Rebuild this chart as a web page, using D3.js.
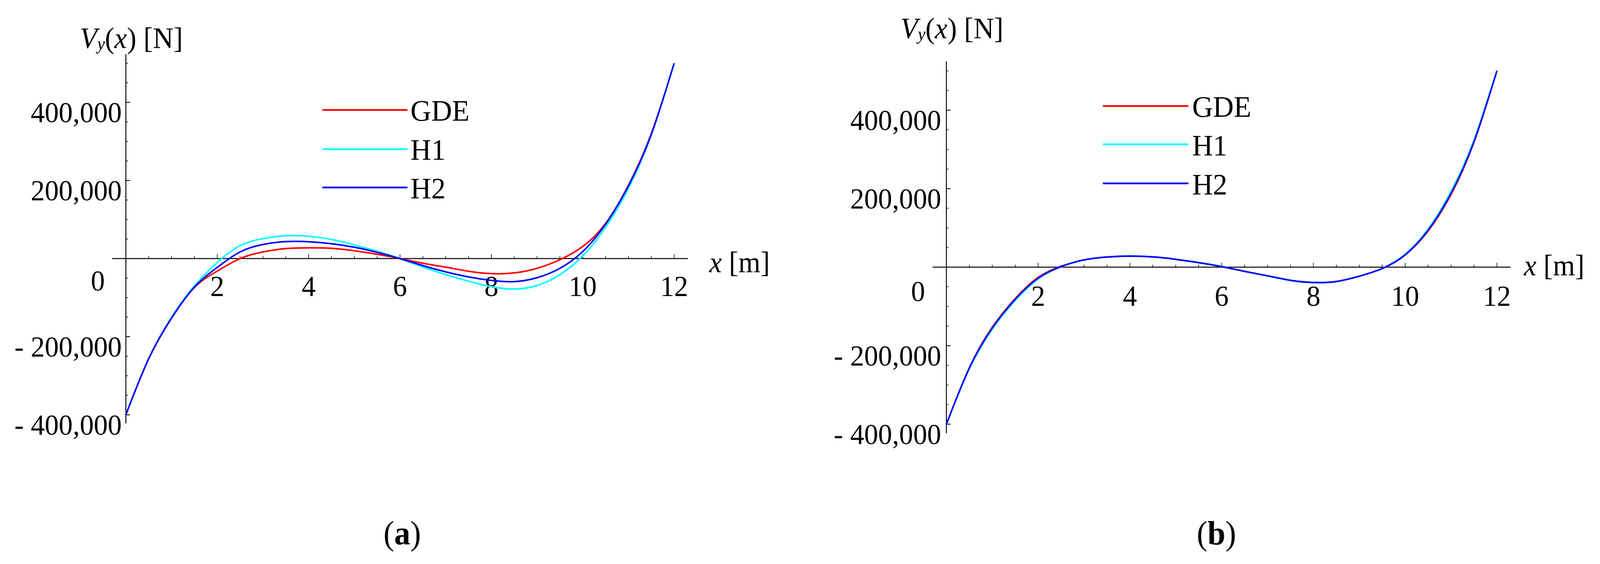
<!DOCTYPE html>
<html>
<head>
<meta charset="utf-8">
<script src="https://cdn.jsdelivr.net/npm/d3@7"></script>
<style>
  html, body { margin: 0; padding: 0; overflow: hidden; background: #fff; }
  svg { display: block; width: 100vw; height: 100vh; font-family: 'Liberation Serif', 'Times New Roman', serif; }
</style>
</head>
<body>
<svg id="chart" viewBox="0 0 4284 1444" preserveAspectRatio="none"></svg>
<script>
// x positions along the beam [m]
const xs = [0, 0.5, 1, 1.5, 2, 2.5, 3, 3.5, 4, 4.5, 5, 5.5, 6, 6.5, 7, 7.5, 8, 8.5, 9, 9.5, 10, 10.5, 11, 11.5, 12];

// panel (a) shear force Vy(x) [N]
const gdeA = [-400000, -257000, -153000, -74000, -32000, 0, 17000, 25600, 27400, 26300, 20000, 11000, 0, -12000, -22000, -32400, -38500, -36800, -25000, -3000, 31000, 90000, 188000, 320000, 500000];
const h1A = [-400000, -256000, -150000, -70000, -10000, 33000, 51000, 58400, 57000, 49000, 35000, 18500, 0, -21500, -41000, -58000, -72000, -78000, -69000, -41000, 7000, 80000, 180000, 316000, 500000];
const h2A = [-400000, -256000, -152000, -73000, -22600, 17000, 36000, 43400, 43000, 38000, 29000, 16000, 0, -18000, -34000, -47000, -56000, -59000, -49000, -25000, 18000, 88000, 186000, 318000, 500000];

// panel (b) shear force Vy(x) [N]
const gdeB = [-400000, -256000, -153000, -80000, -26000, 2000, 18500, 25500, 28000, 26000, 20000, 11500, 1500, -10500, -22000, -33500, -39000, -36500, -23000, -3500, 31000, 92000, 185000, 318000, 500000];
const h1B = [-400000, -259000, -158000, -85000, -30000, 1000, 18500, 26000, 28500, 26000, 20000, 12000, 1500, -11000, -22500, -34000, -39500, -36500, -23000, -3000, 33000, 97000, 193000, 324000, 502000];
const h2B = [-400000, -257000, -155000, -82000, -28000, 1500, 18500, 25800, 28000, 26000, 20000, 11500, 1500, -10800, -22000, -33500, -39000, -36500, -23000, -3500, 31500, 94000, 188000, 320000, 500000];

const seriesNames = ["GDE", "H1", "H2"];
const seriesColors = ["#ff0000", "#00ffff", "#0000ff"];

const xMajorTicks = [2, 4, 6, 8, 10, 12];
const xMinorTicks = d3.range(0.5, 12.01, 0.5);
const yMajorTicks = [-400000, -200000, 200000, 400000];
const yMajorLabels = ["- 400,000", "- 200,000", "200,000", "400,000"];
const yMinorTicks = d3.range(-400000, 500001, 50000);

const panels = [
  {
    caption: "a", series: [gdeA, h1A, h2A],
    xRange: [337, 1805], yRange: [1062, 262],
    xExtent: [-0.3, 12.3], yExtent: [-422000, 523000],
    title: [214, 123], xLabel: [1899, 697], zero: [262, 744],
    xLabelDy: 96, yLabelGap: 11,
    legendX: [863, 1091], legendY: [281.5, 382, 480], legendTextX: 1099, legendBase: [309, 409, 508],
    captionPos: [1077, 1394]
  },
  {
    caption: "b", series: [gdeB, h1B, h2B],
    xRange: [2534, 4008], yRange: [1086, 282],
    xExtent: [-0.3, 12.3], yExtent: [-423000, 524000],
    title: [2411, 98], xLabel: [4080, 705], zero: [2458, 771],
    xLabelDy: 99, yLabelGap: 14,
    legendX: [2953, 3182], legendY: [271.5, 369.5, 469.5], legendTextX: 3192, legendBase: [299, 398.5, 498],
    captionPos: [3257, 1394]
  }
];

const svg = d3.select("#chart");
svg.append("rect").attr("width", 4284).attr("height", 1444).attr("fill", "#fff");

panels.forEach(p => drawPanel(p));

function drawPanel(p) {
  const x = d3.scaleLinear().domain([0, 12]).range(p.xRange);
  const y = d3.scaleLinear().domain([-400000, 400000]).range(p.yRange);
  const g = svg.append("g");
  const y0 = y(0), x0 = x(0);

  // axis lines
  g.append("line")
    .attr("x1", x(p.xExtent[0])).attr("x2", x(p.xExtent[1]))
    .attr("y1", y0).attr("y2", y0)
    .attr("stroke", "#000").attr("stroke-width", 2.5);
  g.append("line")
    .attr("x1", x0).attr("x2", x0)
    .attr("y1", y(p.yExtent[0])).attr("y2", y(p.yExtent[1]))
    .attr("stroke", "#000").attr("stroke-width", 2.5);

  // x ticks (pointing up)
  g.selectAll(".xt").data(xMinorTicks).join("line")
    .attr("x1", d => x(d)).attr("x2", d => x(d))
    .attr("y1", y0).attr("y2", d => y0 - (xMajorTicks.includes(d) ? 11 : 6.5))
    .attr("stroke", "#000").attr("stroke-width", 1.6);

  // y ticks (pointing right)
  g.selectAll(".yt").data(yMinorTicks.filter(d => d !== 0)).join("line")
    .attr("x1", x0).attr("x2", d => x0 + (yMajorTicks.includes(d) ? 11 : 5.5))
    .attr("y1", d => y(d)).attr("y2", d => y(d))
    .attr("stroke", "#000").attr("stroke-width", d => yMajorTicks.includes(d) ? 2.2 : 1.6);

  // tick labels
  g.selectAll(".xl").data(xMajorTicks).join("text")
    .attr("x", d => x(d)).attr("y", y0 + p.xLabelDy)
    .attr("text-anchor", "middle").attr("font-size", 75)
    .text(d => d);
  g.selectAll(".yl").data(yMajorTicks).join("text")
    .attr("x", x0 - p.yLabelGap).attr("y", d => y(d) + 51)
    .attr("text-anchor", "end").attr("font-size", 75)
    .text((d, i) => yMajorLabels[i]);
  g.append("text")
    .attr("x", p.zero[0]).attr("y", p.zero[1])
    .attr("text-anchor", "middle").attr("font-size", 75)
    .text("0");

  // axis titles
  const t = g.append("text")
    .attr("x", p.title[0]).attr("y", p.title[1]).attr("font-size", 76);
  t.append("tspan").attr("font-style", "italic").text("V");
  t.append("tspan").attr("font-style", "italic").attr("font-size", 46).attr("dy", 4).text("y");
  t.append("tspan").attr("dy", -4).text("(");
  t.append("tspan").attr("font-style", "italic").text("x");
  t.append("tspan").text(") [N]");

  const xl = g.append("text")
    .attr("x", p.xLabel[0]).attr("y", p.xLabel[1]).attr("font-size", 76);
  xl.append("tspan").attr("font-style", "italic").text("x");
  xl.append("tspan").text(" [m]");

  // curves
  const line = d3.line()
    .x((d, i) => x(xs[i]))
    .y(d => y(d))
    .curve(d3.curveNatural);
  p.series.forEach((s, i) => {
    g.append("path")
      .datum(s)
      .attr("d", line)
      .attr("fill", "none")
      .attr("stroke", seriesColors[i])
      .attr("stroke-width", 4)
      .attr("stroke-linejoin", "round");
  });

  // legend
  seriesNames.forEach((name, i) => {
    g.append("line")
      .attr("x1", p.legendX[0]).attr("x2", p.legendX[1])
      .attr("y1", p.legendY[i]).attr("y2", p.legendY[i])
      .attr("stroke", seriesColors[i]).attr("stroke-width", 4.5);
    g.append("text")
      .attr("x", p.legendTextX).attr("y", p.legendBase[i])
      .attr("font-size", 77)
      .text(name);
  });

  // caption
  const c = svg.append("text")
    .attr("x", p.captionPos[0]).attr("y", p.captionPos[1])
    .attr("text-anchor", "middle").attr("font-size", 86);
  c.append("tspan").text("(");
  c.append("tspan").attr("font-weight", "bold").text(p.caption);
  c.append("tspan").text(")");
}
</script>
</body>
</html>
